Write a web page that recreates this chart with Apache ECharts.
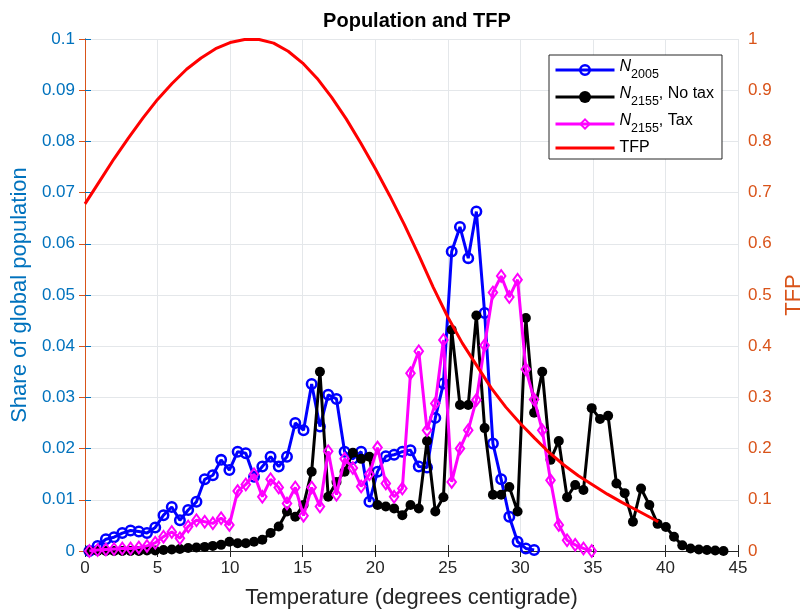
<!DOCTYPE html>
<html><head><meta charset="utf-8">
<script src="https://cdn.jsdelivr.net/npm/echarts@6/dist/echarts.min.js"></script>
<style>html,body{margin:0;padding:0;background:#fff}#c{width:803px;height:612px}</style>
</head><body><div id="c"></div>
<script>
// Temperature bins (degrees centigrade)
const temps = [0.30,0.87,1.44,2.00,2.57,3.14,3.71,4.27,4.84,5.41,5.98,6.54,7.11,7.68,8.25,8.81,9.38,9.95,10.52,11.08,
  11.65,12.22,12.79,13.35,13.92,14.49,15.06,15.62,16.19,16.76,17.33,17.89,18.46,19.03,19.60,20.16,20.73,21.30,21.87,22.43,
  23.00,23.57,24.14,24.70,25.27,25.84,26.41,26.97,27.54,28.11,28.68,29.24,29.81,30.38,30.95,31.51,32.08,32.65,33.22,33.78,
  34.35,34.92,35.49,36.05,36.62,37.19,37.76,38.32,38.89,39.46,40.03,40.59,41.16,41.73,42.30,42.86,43.43,44.00];

// N_2005 share of global population
const n2005 = [0,0.001,0.0023,0.0027,0.0035,0.004,0.0038,0.0035,0.0046,0.007,0.0086,0.006,0.008,0.0096,0.014,0.0148,0.0178,0.0158,0.0194,0.0191,
  0.0145,0.0165,0.0184,0.0165,0.0184,0.025,0.0236,0.0326,0.0243,0.0305,0.0297,0.0194,0.018,0.0194,0.0096,0.0155,0.0185,0.0188,0.0194,0.0197,
  0.0165,0.0163,0.026,0.0327,0.0585,0.0633,0.0572,0.0663,0.0465,0.021,0.014,0.0067,0.0018,0.0005,0.0002];

// N_2155, No tax
const n2155NoTax = [0,0,0,0,0,0,0,0.0001,0.0001,0.0002,0.0003,0.0004,0.0006,0.0007,0.0008,0.001,0.0012,0.0018,0.0015,0.0015,
  0.0018,0.0022,0.0035,0.0048,0.0077,0.0067,0.009,0.0155,0.035,0.0106,0.0135,0.0155,0.0192,0.018,0.0184,0.009,0.0087,0.0083,0.007,0.009,
  0.0083,0.0215,0.0077,0.0105,0.0432,0.0285,0.0285,0.046,0.024,0.011,0.011,0.0125,0.0077,0.0455,0.027,0.035,0.0178,0.0215,0.0105,0.0129,
  0.0119,0.0279,0.0258,0.0264,0.0132,0.0113,0.0057,0.0122,0.009,0.0053,0.0047,0.0028,0.0011,0.0005,0.0003,0.0002,0.0001,0];

// N_2155, Tax
const n2155Tax = [0,0.0002,0.0003,0.0004,0.0005,0.0005,0.0007,0.001,0.0016,0.0028,0.0037,0.0025,0.0048,0.006,0.0057,0.0054,0.0064,0.0051,0.0117,0.013,
  0.015,0.0106,0.014,0.0124,0.0093,0.0124,0.0069,0.0124,0.0087,0.0195,0.011,0.018,0.0162,0.0126,0.015,0.0202,0.0132,0.0106,0.0122,0.0347,
  0.039,0.0236,0.0288,0.0412,0.0135,0.02,0.0236,0.0295,0.0402,0.0505,0.0537,0.0496,0.053,0.0355,0.0296,0.0236,0.0138,0.0051,0.0021,0.0012,
  0.0005,0];

// TFP curve (right axis)
const tfpTemps = [0,1,2,3,4,5,6,7,8,9,10,11,12,13,14,15,16,17,18,19,20,21,22,23,24,25,26,27,28,29,30,31,32,33,34,35,36,37,38,39,39.5];
const tfpValues = [0.678,0.722,0.766,0.807,0.846,0.882,0.913,0.941,0.963,0.981,0.993,0.999,0.999,0.992,0.976,0.953,0.923,0.886,0.844,0.797,
  0.747,0.694,0.638,0.578,0.515,0.457,0.406,0.362,0.318,0.281,0.249,0.220,0.192,0.168,0.147,0.129,0.111,0.095,0.080,0.065,0.057];

const xTicks = {min:0, max:45, step:5};
const leftTicks = {min:0, max:0.1, step:0.01};
const rightTicks = {min:0, max:1, step:0.1};

const pairs = (xs, ys) => ys.map((y, i) => [xs[i], y]);
const FONT = '"Liberation Sans", Arial, Helvetica, sans-serif';
const RING = 'path://M0,-10 A10,10 0 1,1 0,10 A10,10 0 1,1 0,-10 Z M0,-5.8 A5.8,5.8 0 1,0 0,5.8 A5.8,5.8 0 1,0 0,-5.8 Z';
const DIAMOND = 'path://M0,-10 L7.5,0 L0,10 L-7.5,0 Z M0,-5.6 L-4.1,0 L0,5.6 L4.1,0 Z';
const BAR = 'path://M0,0 L60,0 L60,3 L0,3 Z';
const AX = '#262626', BLUEAX = '#0072BD', ORANGE = '#D95319', GRIDC = '#e4e7ea';

const legendLabels = {
  'N2005': '{n|N}{s|2005}',
  'N2155NoTax': '{n|N}{s|2155}{t|, No tax}',
  'N2155Tax': '{n|N}{s|2155}{t|, Tax}',
  'TFP': '{t|TFP}'
};

const chart = echarts.init(document.getElementById('c'), null, {renderer: 'canvas'});
chart.setOption({
  animation: false,
  backgroundColor: '#fff',
  textStyle: {fontFamily: FONT},
  title: {
    text: 'Population and TFP', left: 412, top: 6, textAlign: 'center',
    textStyle: {fontFamily: FONT, fontSize: 20, fontWeight: 'bold', color: '#000'}
  },
  grid: {left: 85, right: 65, top: 39, bottom: 61, containLabel: false, outerBoundsMode: 'none'},
  legend: {
    orient: 'vertical', left: 549, top: 55,
    padding: [4, 8, 3, 5], itemGap: 5, itemWidth: 59, itemHeight: 15,
    borderColor: AX, borderWidth: 1, backgroundColor: '#fff',
    lineStyle: {width: 3},
    data: ['N2005', 'N2155NoTax', 'N2155Tax', {name: 'TFP', icon: BAR}],
    formatter: name => legendLabels[name],
    textStyle: {
      fontFamily: FONT, color: '#000',
      rich: {
        n: {fontFamily: FONT, fontSize: 16, fontStyle: 'italic', color: '#000', verticalAlign: 'top'},
        s: {fontFamily: FONT, fontSize: 12.5, color: '#000', verticalAlign: 'bottom', padding: [9, 0, 0, 0]},
        t: {fontFamily: FONT, fontSize: 16, color: '#000', verticalAlign: 'top'}
      }
    }
  },
  xAxis: [{
    type: 'value', min: xTicks.min, max: xTicks.max, interval: xTicks.step, position: 'bottom',
    axisLine: {show: true, lineStyle: {color: AX, width: 1}},
    axisTick: {show: true, inside: true, length: 6, lineStyle: {color: AX}},
    axisLabel: {fontFamily: FONT, fontSize: 17, color: AX, margin: 9},
    splitLine: {show: true, lineStyle: {color: GRIDC, width: 1}},
    name: 'Temperature (degrees centigrade)', nameLocation: 'middle', nameGap: 36,
    nameTextStyle: {fontFamily: FONT, fontSize: 22, color: AX}
  }, {
    type: 'value', min: xTicks.min, max: xTicks.max, interval: xTicks.step, position: 'top',
    axisLine: {show: true, lineStyle: {color: AX, width: 1}},
    axisTick: {show: true, inside: true, length: 6, lineStyle: {color: AX}},
    axisLabel: {show: false}, splitLine: {show: false}
  }],
  yAxis: [{
    type: 'value', min: leftTicks.min, max: leftTicks.max, interval: leftTicks.step, position: 'left',
    axisLine: {show: true, lineStyle: {color: BLUEAX, width: 1}},
    axisTick: {show: true, inside: true, length: 6, lineStyle: {color: BLUEAX}},
    axisLabel: {fontFamily: FONT, fontSize: 17, color: BLUEAX, margin: 10,
      formatter: v => String(Math.round(v * 100) / 100)},
    splitLine: {show: true, lineStyle: {color: GRIDC, width: 1}},
    name: 'Share of global population', nameLocation: 'middle', nameGap: 52,
    nameTextStyle: {fontFamily: FONT, fontSize: 22, color: BLUEAX}
  }, {
    type: 'value', min: rightTicks.min, max: rightTicks.max, interval: rightTicks.step, position: 'right',
    axisLine: {show: true, lineStyle: {color: ORANGE, width: 1}},
    axisTick: {show: true, inside: true, length: 6, lineStyle: {color: ORANGE}},
    axisLabel: {fontFamily: FONT, fontSize: 17, color: ORANGE, margin: 10,
      formatter: v => String(Math.round(v * 10) / 10)},
    splitLine: {show: false},
    name: 'TFP', nameLocation: 'middle', nameGap: 45, nameRotate: 90,
    nameTextStyle: {fontFamily: FONT, fontSize: 22, color: ORANGE}
  }],
  series: [{
    name: 'N2005', type: 'line', xAxisIndex: 0, yAxisIndex: 0,
    data: pairs(temps, n2005), symbol: RING, symbolSize: 12, showAllSymbol: true,
    lineStyle: {width: 3, color: '#0000ff'}, itemStyle: {color: '#0000ff'}, silent: true, z: 2
  }, {
    name: 'N2155NoTax', type: 'line', xAxisIndex: 0, yAxisIndex: 0,
    data: pairs(temps, n2155NoTax), symbol: 'circle', symbolSize: 10, showAllSymbol: true,
    lineStyle: {width: 3, color: '#000000'}, itemStyle: {color: '#000000'}, silent: true, z: 3
  }, {
    name: 'N2155Tax', type: 'line', xAxisIndex: 0, yAxisIndex: 0,
    data: pairs(temps, n2155Tax), symbol: DIAMOND, symbolSize: [11, 15], showAllSymbol: true,
    lineStyle: {width: 3, color: '#ff00ff'}, itemStyle: {color: '#ff00ff'}, silent: true, z: 4
  }, {
    name: 'TFP', type: 'line', xAxisIndex: 0, yAxisIndex: 1,
    data: pairs(tfpTemps, tfpValues), symbol: 'none', showSymbol: false,
    lineStyle: {width: 3, color: '#ff0000'}, itemStyle: {color: '#ff0000'}, silent: true, z: 5
  }]
});
</script></body></html>
